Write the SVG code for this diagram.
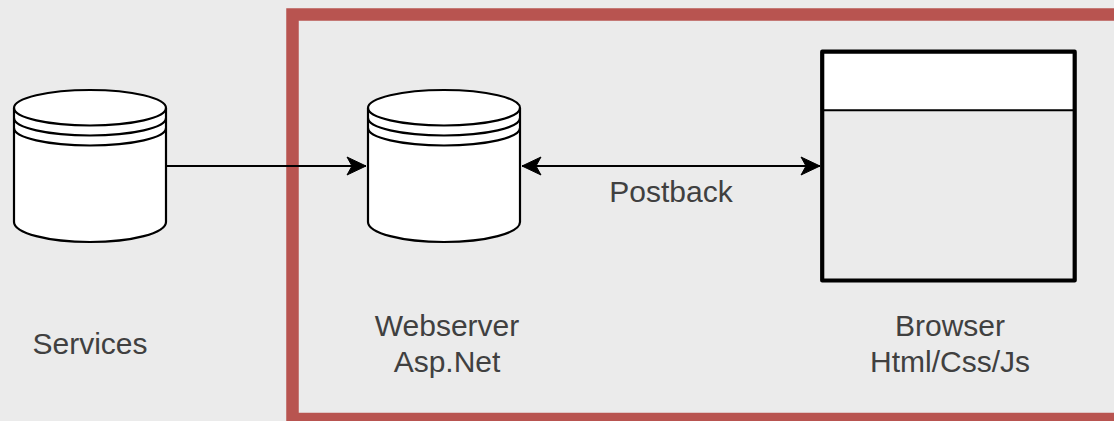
<svg xmlns="http://www.w3.org/2000/svg" width="1114" height="421" viewBox="0 0 1114 421">
<style>
.db{fill:#fff;stroke:#000;stroke-width:2.2}
.ln{fill:none;stroke:#000;stroke-width:2.2}
.c{fill:none;stroke:#000;stroke-width:2}
text{font-family:"Liberation Sans",Arial,sans-serif;font-size:30px;fill:#404040;text-anchor:middle}
</style>
<defs>
<marker id="a" markerUnits="userSpaceOnUse" markerWidth="22" markerHeight="22" refX="20" refY="10" orient="auto-start-reverse" viewBox="0 0 22 20">
<path d="M1 1L20 10L1 19L6 10Z" fill="#000" stroke="#000" stroke-width="1"/>
</marker>
<g id="cyl">
<path class="db" d="M0 19A76 18 0 0 1 152 19V133A76 20 0 0 1 0 133Z"/>
<path class="ln" d="M0 19A76 17.500 0 0 0 152 19M0 29A76 17.500 0 0 0 152 29M0 39A76 17.500 0 0 0 152 39"/>
</g>
</defs>
<rect width="1114" height="421" fill="#ebebeb"/>
<g id="frame"><rect x="292.500" y="14.500" width="900" height="404.500" fill="none" stroke="#b85450" stroke-width="12.500"/></g>
<g id="services"><use href="#cyl" x="14" y="89"/><text x="90" y="354">Services</text></g>
<g id="webserver"><use href="#cyl" x="368" y="89"/><text x="447" y="336">Webserver</text><text x="447" y="372">Asp.Net</text></g>
<g id="browser">
<rect x="822.200" y="51.700" width="252.500" height="58" fill="#fff"/>
<rect x="822.200" y="51.700" width="252.500" height="228.800" fill="none" stroke="#000" stroke-width="4.200" stroke-linejoin="round"/>
<path d="M822 110.300H1074" stroke="#000" stroke-width="2"/>
<text x="950" y="336">Browser</text><text x="950" y="372">Html/Css/Js</text>
</g>
<g id="connectors">
<path class="c" d="M166 166H366" marker-end="url(#a)"/>
<path class="c" d="M522 166H820" marker-start="url(#a)" marker-end="url(#a)"/>
<text x="671" y="202">Postback</text>
</g>
</svg>
